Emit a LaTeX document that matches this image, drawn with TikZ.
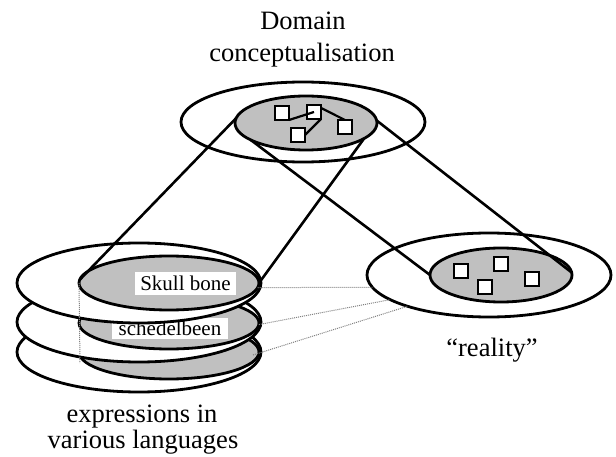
\documentclass[tikz,border=0pt]{standalone}
\usepackage{fontspec}
\setmainfont{Liberation Serif}
\usetikzlibrary{shapes.geometric}
\definecolor{shade}{HTML}{C0C0C0}
\begin{document}
\begin{tikzpicture}[x=1pt,y=-1pt,
  outerell/.style={ellipse, draw, line width=2.8pt, fill=white, inner sep=0pt, outer sep=0pt, minimum width=244pt, minimum height=80pt},
  innerell/.style={ellipse, draw, line width=2.8pt, fill=shade, inner sep=0pt, outer sep=0pt},
  sq/.style={draw, line width=2.6pt, fill=white, minimum size=14pt, inner sep=0pt, outer sep=0pt},
  link/.style={line width=2.6pt},
  tie/.style={line width=2.2pt},
  dots/.style={gray, line width=1pt, dash pattern=on 1pt off 1pt},
  big/.style={font=\fontsize{26.5}{31.8}\selectfont, inner sep=0pt, anchor=base},
  tag/.style={font=\fontsize{21}{25}\selectfont, fill=white, inner sep=0pt}
]
\useasboundingbox (0,0) rectangle (616,457);

% top (domain conceptualisation)
\node[outerell] (to) at (303,122) {};
\node[innerell, minimum width=142pt, minimum height=54pt] (tg) at (306,123) {};
\node[sq] (q1) at (282,113) {};
\node[sq] (q2) at (314,112) {};
\node[sq] (q3) at (298,135) {};
\node[sq] (q4) at (345,127) {};
\draw[tie] (q1.south east) -- (q2.center);
\draw[tie] (q2.south east) -- (q3.east);
\draw[tie] (q2.30) -- (q4.north);

% right (reality)
\node[outerell, minimum height=84pt] (ro) at (489,275) {};
\node[innerell, minimum width=142pt, minimum height=54pt] (rg) at (501,275) {};
\node[sq] (r1) at (461,271) {};
\node[sq] (r2) at (501,264) {};
\node[sq] (r3) at (485,287) {};
\node[sq] (r4) at (532,279) {};

% left stack (expressions)
\node[outerell] (o3) at (139,352) {};
\node[innerell, minimum width=180pt, minimum height=54pt] (g3) at (169,352) {};
\node[outerell] (o2) at (139,322) {};
\node[innerell, minimum width=180pt, minimum height=52pt] (g2) at (169,323) {};
\node[tag, minimum width=116pt, minimum height=21pt] (lab2) at (170,328) {schedelbeen};
\node[outerell] (o1) at (139,283) {};
\node[innerell, minimum width=180pt, minimum height=54pt] (g1) at (169,283) {};
\node[tag, minimum width=101pt, minimum height=23pt] (lab1) at (185.5,283.5) {Skull bone};

% connectors
\draw[link] (tg.176) -- (g1.178);
\draw[link] (tg.197) -- (rg.180);
\draw[link] (tg.345) -- (g1.0);
\draw[link] (tg.2) -- (rg.2);

% dotted correspondences
\coordinate (d3) at (253,355);
\coordinate (vb) at (80,363);
\draw[dots] (g1.357) -- (ro.186);
\draw[dots] (g2.359) -- (ro.194);
\draw[dots] (d3) -- (ro.201);
\draw[dots] (g1.180) -- (vb);

% texts
\node[big] (t1) at (303,30) {Domain};
\node[big] (t2) at (302,62) {conceptualisation};
\node[big] (t3) at (142,422) {expressions in};
\node[big] (t4) at (143,448) {various languages};
\node[big] (t5) at (492,356) {“reality”};
\end{tikzpicture}
\end{document}
